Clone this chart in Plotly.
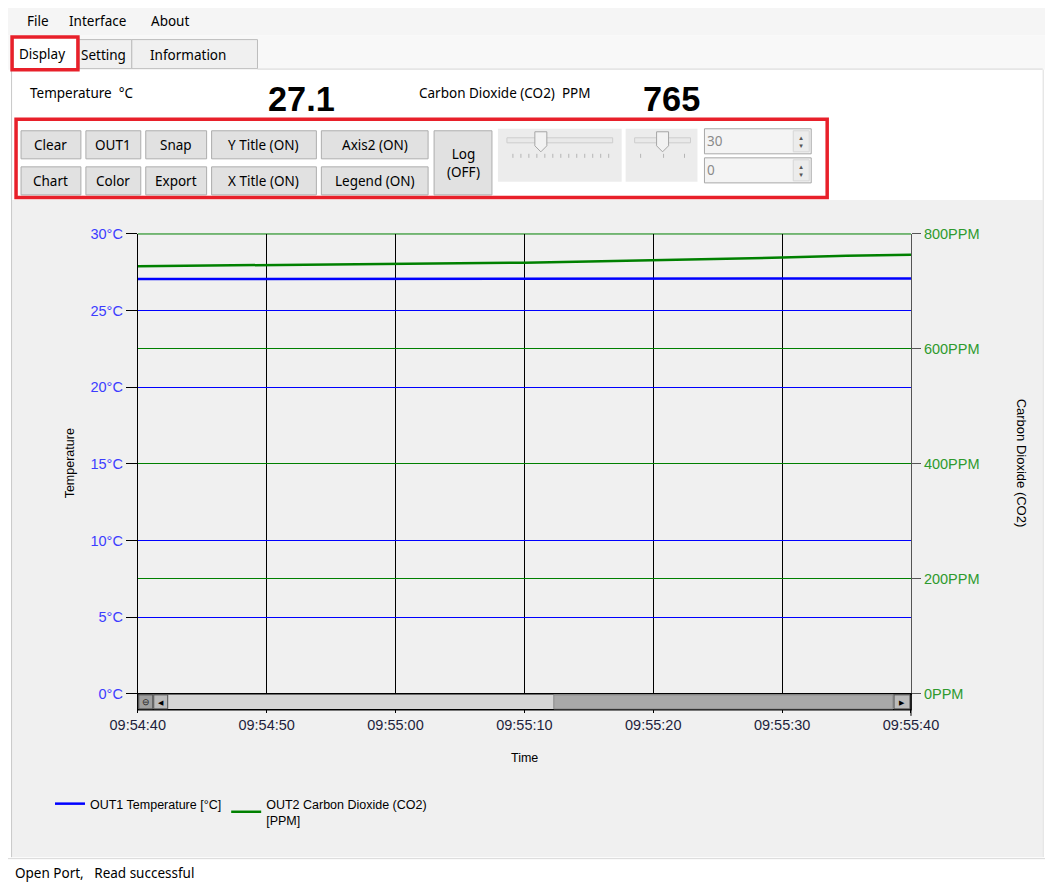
import plotly.graph_objects as go

# ---------------- data ----------------
times = ["2024-01-01 09:54:40", "2024-01-01 09:54:45", "2024-01-01 09:54:50", "2024-01-01 09:54:55",
         "2024-01-01 09:55:00", "2024-01-01 09:55:05", "2024-01-01 09:55:10", "2024-01-01 09:55:15",
         "2024-01-01 09:55:20", "2024-01-01 09:55:25", "2024-01-01 09:55:30", "2024-01-01 09:55:35",
         "2024-01-01 09:55:40"]
temperature_c = [27.06, 27.06, 27.06, 27.06, 27.06, 27.07, 27.08, 27.07, 27.07, 27.1, 27.1, 27.1, 27.1]
co2_ppm = [744, 745, 745, 746, 747, 748, 750, 752, 754, 757, 759, 762, 764]
series_names = ["OUT1 Temperature [°C]", "OUT2 Carbon Dioxide (CO2)<br>[PPM]"]
temp_ticks = [0, 5, 10, 15, 20, 25, 30]
co2_ticks = [0, 200, 400, 600, 800]
x_range = ["2024-01-01 09:54:40", "2024-01-01 09:55:40"]

# ---------------- geometry helpers ----------------
# layout positions below are given in screenshot pixels and mapped to the page
WIN_W, WIN_H = 1053, 882
OFF = 8                      # body margin of the html page
W, H = WIN_W, WIN_H
KX, AX, KY, AY = 0.949, 26.4, 0.980, 8.6
FS = 1.04
CHART_FONT = "Liberation Sans, Arial, sans-serif"
UI_FONT = "Noto Sans, Open Sans, sans-serif"


def wx(r):
    return (r - AX) / KX


def wy(r):
    return (r - AY) / KY


def X(r):
    return (wx(r) - OFF) / W


def Y(r):
    return 1 - (wy(r) - OFF) / H


shapes = []
annotations = []


def rect(x0, y0, x1, y1, fill=None, line=None, lw=1, layer="above"):
    shapes.append(dict(type="rect", xref="paper", yref="paper", x0=X(x0), x1=X(x1), y0=Y(y0), y1=Y(y1),
                       fillcolor=fill if fill else "rgba(0,0,0,0)",
                       line=dict(color=line if line else "rgba(0,0,0,0)", width=lw if line else 0),
                       layer=layer))


def hline(x0, x1, y, color, lw=1, layer="above"):
    shapes.append(dict(type="line", xref="paper", yref="paper", x0=X(x0), x1=X(x1), y0=Y(y), y1=Y(y),
                       line=dict(color=color, width=lw), layer=layer))


def vline(x, y0, y1, color, lw=1, layer="above"):
    shapes.append(dict(type="line", xref="paper", yref="paper", x0=X(x), x1=X(x), y0=Y(y0), y1=Y(y1),
                       line=dict(color=color, width=lw), layer=layer))


def text(x, y, s, size=13, color="#000", font=UI_FONT, xanchor="left", yanchor="middle", angle=0, bold=False):
    annotations.append(dict(xref="paper", yref="paper", x=X(x), y=Y(y),
                            text=f"<b>{s}</b>" if bold else s,
                            showarrow=False, xanchor=xanchor, yanchor=yanchor, textangle=angle,
                            font=dict(family=font, size=round(size * FS, 1), color=color)))


def path(pts, fill, line):
    d = "M " + " L ".join(f"{X(a)},{Y(b)}" for a, b in pts) + " Z"
    shapes.append(dict(type="path", xref="paper", yref="paper", layer="below", path=d,
                       fillcolor=fill, line=dict(color=line, width=1)))


# ---------------- window chrome ----------------
rect(0, 6, 1060, 36, fill="#f5f5f5", layer="below")
hline(0, 1060, 5.5, "#cfcfcf", layer="below")
text(23, 21, "File")
text(65, 21, "Interface")
text(147, 21, "About")
rect(0, 36, 1060, 70, fill="#f8f8f8", layer="below")
# tabs
rect(77, 40, 130, 69, fill="#f0f0f0", line="#bdbdbd", layer="below")
rect(130, 40, 256, 69, fill="#f0f0f0", line="#bdbdbd", layer="below")
rect(11, 38, 77, 70, fill="#ffffff", line="#bdbdbd", layer="below")
hline(256, 1043, 69.5, "#d0d0d0", layer="below")
text(77, 55, "Setting")
text(146, 55, "Information")
text(15, 54, "Display")
rect(10, 37.5, 76, 70, line="#e8202a", lw=3.5)
# content area
rect(9, 70, 1043, 200, fill="#ffffff", layer="below")
text(26, 93, "Temperature  °C")
text(265, 99, "27.1", size=33, font=CHART_FONT, bold=True)
text(416, 93, "Carbon Dioxide (CO2)  PPM")
text(640, 99, "765", size=33, font=CHART_FONT, bold=True)

# buttons
buttons = [("Clear", 19, 131, 79, 159), ("OUT1", 84, 131, 139, 159), ("Snap", 144, 131, 205, 159),
           ("Y Title (ON)", 210, 131, 315, 159), ("Axis2 (ON)", 320, 131, 427, 159),
           ("Chart", 19, 167, 79, 195), ("Color", 84, 167, 139, 195), ("Export", 144, 167, 205, 195),
           ("X Title (ON)", 210, 167, 315, 195), ("Legend (ON)", 320, 167, 427, 195),
           ("Log<br>(OFF)", 433, 131, 491, 195)]
for lab, x0, y0, x1, y1 in buttons:
    rect(x0, y0, x1, y1, fill="#e1e1e1", line="#adadad", layer="below")
    text((x0 + x1) / 2, (y0 + y1) / 2, lab, size=13, xanchor="center")

# sliders
rect(497, 129, 621, 182, fill="#ececec", layer="below")
rect(506, 138, 612, 143, fill="#e9e9e9", line="#cdcdcd", layer="below")
for tx in [512, 520, 528, 536, 544, 552, 560, 568, 576, 584, 592, 600, 608]:
    vline(tx, 154, 158, "#b5b5b5", layer="below")
path([(534, 132), (546, 132), (546, 146), (540, 152), (534, 146)], "#f2f2f2", "#a5a5a5")
rect(625, 129, 697, 182, fill="#ececec", layer="below")
rect(634, 138, 690, 143, fill="#e9e9e9", line="#cdcdcd", layer="below")
for tx in [640, 663, 684]:
    vline(tx, 154, 158, "#b5b5b5", layer="below")
path([(656, 132), (668, 132), (668, 146), (662, 152), (656, 146)], "#f2f2f2", "#a5a5a5")
# spin boxes
for (y0, y1, val) in [(129, 154, "30"), (158, 183, "0")]:
    rect(704, y0, 811, y1, fill="#f4f4f4", line="#a8a8a8", layer="below")
    rect(793, y0 + 2, 809, y1 - 2, fill="#ececec", line="#d6d6d6", layer="below")
    text(705, (y0 + y1) / 2, val, size=13, color="#8a8a8a")
    text(801, (y0 + y1) / 2 - 4, "▲", size=6, color="#555", xanchor="center")
    text(801, (y0 + y1) / 2 + 4, "▼", size=6, color="#555", xanchor="center")
rect(14, 119.5, 827, 197.5, line="#e8202a", lw=3.5)

# chart panel
rect(9, 200, 1043, 856, fill="#f0f0f0", layer="below")
vline(9.5, 70, 856, "#c8c8c8", layer="below")
vline(1043.5, 70, 856, "#dcdcdc", layer="below")
hline(0, 1060, 857.5, "#d8d8d8", layer="below")
text(11, 872, "Open Port,   Read successful")

# scrollbar under the plot
rect(136, 693, 911, 709, fill="#d6d6d6", line="#000000", lw=1.5)
rect(553, 694, 893, 708, fill="#a9a9a9", line="#8a8a8a", lw=1)
rect(137, 694, 151, 708, fill="#a0a0a0", line="#505050", lw=1)
rect(152, 694, 166, 708, fill="#bcbcbc", line="#505050", lw=1)
rect(894, 694, 910, 708, fill="#bcbcbc", line="#505050", lw=1)
text(144, 701, "⊖", size=9, color="#222", xanchor="center")
text(159, 701, "◀", size=7, color="#000", xanchor="center")
text(902, 701, "▶", size=7, color="#000", xanchor="center")
vline(911, 693, 715, "#000000", lw=1)

# axis titles
text(68, 463, "Temperature", size=12, font=CHART_FONT, xanchor="center", angle=-90)
text(1022, 463, "Carbon Dioxide (CO2)", size=12.5, font=CHART_FONT, xanchor="center", angle=90)
text(524, 757, "Time", size=12, font=CHART_FONT, xanchor="center")

# ---------------- figure ----------------
fig = go.Figure()
fig.add_trace(go.Scatter(x=times, y=temperature_c, name=series_names[0], mode="lines",
                         line=dict(color="#0000ff", width=2.5)))
fig.add_trace(go.Scatter(x=times, y=co2_ppm, name=series_names[1], mode="lines", yaxis="y2",
                         line=dict(color="#008000", width=2.5)))

fig.update_layout(
    width=W, height=H, autosize=False,
    margin=dict(l=0, r=0, t=0, b=0),
    paper_bgcolor="#ffffff", plot_bgcolor="#ffffff",
    showlegend=True,
    legend=dict(orientation="h", x=X(48), y=Y(788), xanchor="left", yanchor="top",
                bgcolor="rgba(0,0,0,0)", font=dict(family=CHART_FONT, size=12.5, color="#000"),
                itemwidth=30, traceorder="normal"),
    xaxis=dict(domain=[X(136), X(911)], type="date", range=x_range, dtick=10000, tickformat="%H:%M:%S",
               showgrid=True, gridcolor="#000000", gridwidth=1, ticks="outside", ticklen=18,
               tickcolor="#000000", showline=True, linecolor="#000000", linewidth=1,
               tickfont=dict(family=CHART_FONT, size=14.5, color="#1e1e3c"), zeroline=False, fixedrange=True),
    yaxis=dict(domain=[Y(693), Y(234)], range=[0, 30], tickmode="array", tickvals=temp_ticks,
               ticktext=[f"{v}°C" for v in temp_ticks],
               showgrid=True, gridcolor="#0000ff", gridwidth=1, ticks="outside", ticklen=11,
               tickcolor="#000000", showline=True, linecolor="#000000", linewidth=1, zeroline=False,
               tickfont=dict(family=CHART_FONT, size=14.5, color="#3c3cff")),
    yaxis2=dict(overlaying="y", side="right", range=[0, 800], tickmode="array", tickvals=co2_ticks,
                ticktext=[f"{v}PPM" for v in co2_ticks],
                showgrid=True, gridcolor="#008000", gridwidth=1, ticks="outside", ticklen=9,
                tickcolor="#555555", showline=True, linecolor="#555555", linewidth=1, zeroline=False,
                tickfont=dict(family=CHART_FONT, size=14.5, color="#2e9a2e")),
    shapes=shapes, annotations=annotations,
)
fig.add_shape(type="line", xref="paper", yref="paper", x0=X(136), x1=X(911), y0=Y(234), y1=Y(234),
              line=dict(color="#008000", width=1), layer="below")

fig.write_html("out.html", config={"displayModeBar": False})
